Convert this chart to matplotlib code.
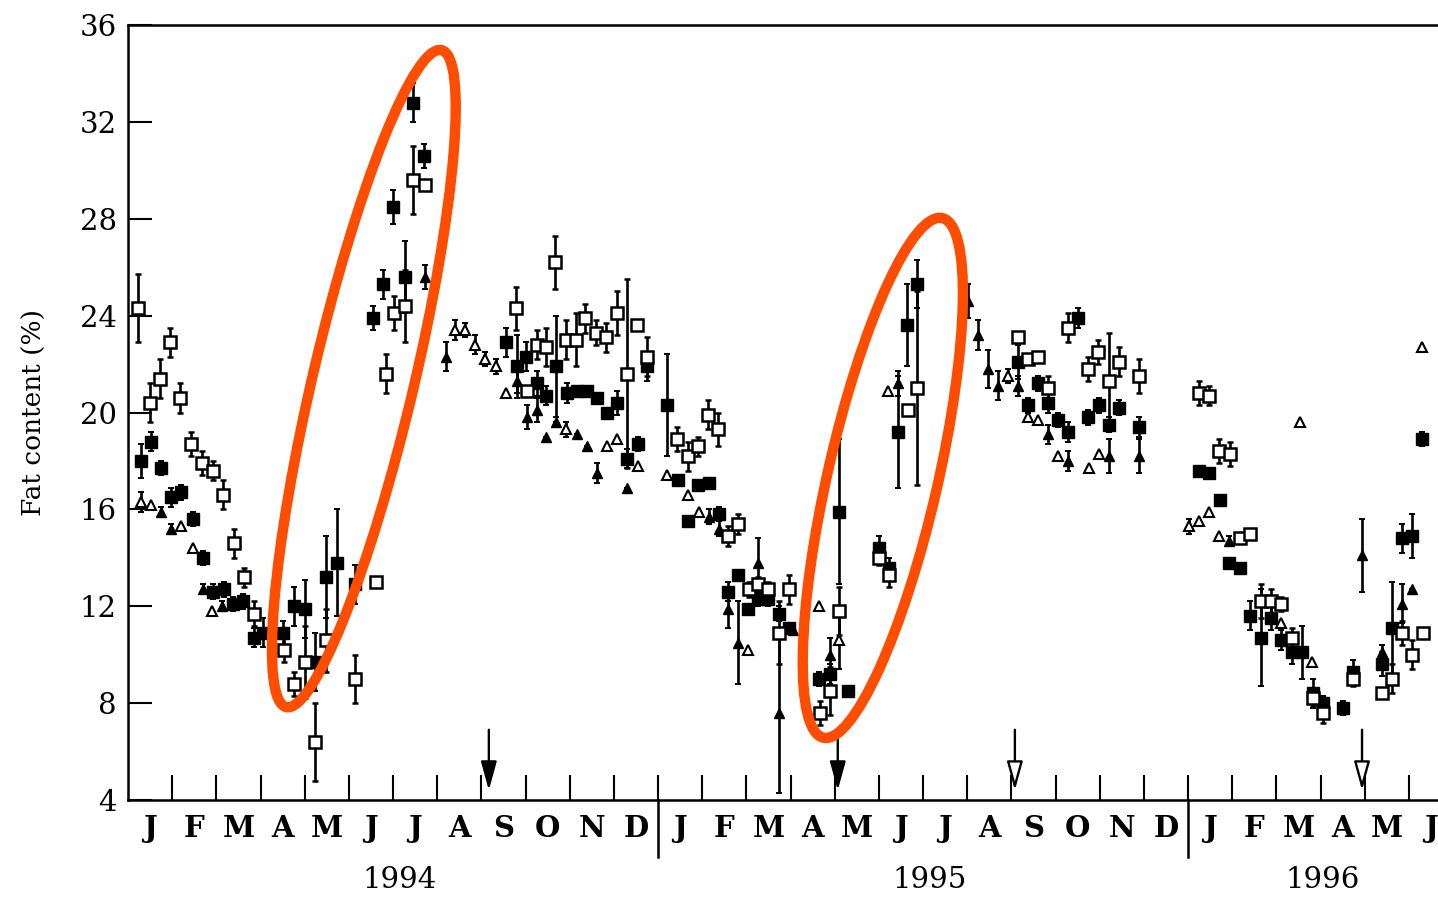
import numpy as np
import matplotlib.pyplot as plt
from matplotlib.patches import Ellipse
from matplotlib.transforms import IdentityTransform, blended_transform_factory

plt.rcParams['font.family'] = 'DejaVu Serif'

# time is in months counted from 1 January 1994
month_labels = ['J', 'F', 'M', 'A', 'M', 'J', 'J', 'A', 'S', 'O', 'N', 'D'] * 2 + ['J', 'F', 'M', 'A', 'M', 'J']
years = ['1994', '1995', '1996']
year_pos = [6.15, 18.15, 27.05]

# filled squares
fs_t = [0.29, 0.52, 0.75, 0.97, 1.20, 1.47, 1.70, 1.92, 2.17, 2.38, 2.60, 2.85, 3.06, 3.51, 3.76, 4.01, 4.23, 4.48, 4.73, 5.14, 5.55, 5.77, 6.00, 6.27, 6.45, 6.70,
        8.56, 8.81, 9.01, 9.26, 9.46, 9.69, 9.94, 10.17, 10.39, 10.62, 10.84, 11.07, 11.30, 11.55, 11.75,
        12.20, 12.45, 12.68, 12.90, 13.15, 13.38, 13.58, 13.81, 14.04, 14.26, 14.49, 14.74, 14.96, 15.64, 15.89, 16.10, 16.30, 17.00, 17.23, 17.43, 17.64, 17.86,
        20.15, 20.38, 20.60, 20.83, 21.06, 21.28, 21.51, 21.73, 21.98, 22.21, 22.44, 22.89,
        24.25, 24.47, 24.72, 24.93, 25.18, 25.40, 25.65, 25.87, 26.10, 26.35, 26.58, 26.83, 27.05, 27.51, 27.73, 28.39, 28.62, 28.84, 29.07, 29.30]
fs_y = [18.0, 18.8, 17.7, 16.5, 16.7, 15.6, 14.0, 12.6, 12.7, 12.1, 12.2, 10.7, 10.9, 10.9, 12.0, 11.9, 9.7, 13.2, 13.8, 12.9, 23.9, 25.3, 28.5, 25.6, 32.8, 30.6,
        22.9, 21.9, 22.3, 21.2, 20.7, 21.9, 20.8, 20.9, 20.9, 20.6, 20.0, 20.4, 18.1, 18.7, 21.9,
        20.3, 17.2, 15.5, 17.0, 17.1, 15.8, 12.6, 13.3, 11.9, 12.3, 12.3, 11.7, 11.1, 9.0, 9.2, 15.9, 8.5, 14.4, 13.6, 19.2, 23.6, 25.3,
        22.1, 20.3, 21.2, 20.4, 19.7, 19.2, 23.9, 19.8, 20.3, 19.5, 20.2, 19.4,
        17.6, 17.5, 16.4, 13.8, 13.6, 11.6, 10.7, 11.5, 10.6, 10.1, 10.1, 8.4, 8.0, 7.8, 9.3, 9.6, 11.1, 14.8, 14.9, 18.9]
fs_e = [0.7, 0.4, 0.3, 0.4, 0.3, 0.3, 0.3, 0.3, 0.3, 0.3, 0.3, 0.4, 0.6, 0.5, 0.8, 1.2, 1.2, 1.7, 2.2, 0.8, 0.5, 0.6, 0.7, 1.5, 0.8, 0.5,
        0.6, 1.3, 0.6, 0.5, 0.4, 2.1, 0.4, 0.2, 0.2, 0.2, 0.2, 0.5, 0.4, 0.3, 0.6,
        2.1, 0.2, 0.2, 0.2, 0.2, 0.3, 0.4, 0.2, 0.2, 0.3, 0.3, 0.3, 0.2, 0.3, 0.4, 3.0, 0.0, 0.5, 0.4, 2.3, 1.7, 1.0,
        0.7, 0.3, 0.3, 0.4, 0.3, 0.4, 0.4, 0.3, 0.3, 0.3, 0.3, 0.4,
        0.2, 0.2, 0.2, 0.2, 0.2, 0.6, 2.0, 0.5, 0.4, 0.5, 1.1, 0.6, 0.3, 0.3, 0.5, 0.5, 1.9, 0.6, 0.9, 0.3]

# open squares
os_t = [0.23, 0.50, 0.72, 0.95, 1.18, 1.43, 1.68, 1.92, 2.15, 2.40, 2.63, 2.85, 3.53, 3.76, 4.01, 4.23, 4.48, 5.14, 5.61, 5.84, 6.02, 6.27, 6.45, 6.72,
        8.78, 9.03, 9.26, 9.46, 9.67, 9.92, 10.14, 10.35, 10.60, 10.82, 11.07, 11.30, 11.52, 11.75,
        12.43, 12.68, 12.90, 13.13, 13.36, 13.58, 13.81, 14.06, 14.26, 14.49, 14.74, 14.96, 15.67, 15.89, 16.10, 17.00, 17.23, 17.66, 17.86,
        20.15, 20.38, 20.60, 20.83, 21.28, 21.73, 21.96, 22.21, 22.44, 22.89,
        24.25, 24.47, 24.70, 24.95, 25.18, 25.40, 25.65, 25.87, 26.10, 26.35, 26.83, 27.05, 27.73, 28.39, 28.62, 28.84, 29.07, 29.32]
os_y = [24.3, 20.4, 21.4, 22.9, 20.6, 18.7, 17.9, 17.6, 16.6, 14.6, 13.2, 11.7, 10.2, 8.8, 9.7, 6.4, 10.6, 9.0, 13.0, 21.6, 24.1, 24.4, 29.6, 29.4,
        24.3, 20.9, 22.8, 22.7, 26.2, 23.0, 23.0, 23.9, 23.3, 23.1, 24.1, 21.6, 23.6, 22.3,
        18.9, 18.2, 18.6, 19.9, 19.3, 14.9, 15.4, 12.7, 12.9, 12.7, 10.9, 12.7, 7.6, 8.5, 11.8, 14.0, 13.3, 20.1, 21.0,
        23.1, 22.2, 22.3, 21.0, 23.5, 21.8, 22.5, 21.3, 22.1, 21.5,
        20.8, 20.7, 18.4, 18.3, 14.8, 15.0, 12.2, 12.2, 12.1, 10.7, 8.2, 7.6, 9.0, 8.4, 9.0, 10.9, 10.0, 10.9]
os_e = [1.4, 0.8, 0.8, 0.6, 0.6, 0.5, 0.5, 0.4, 0.6, 0.6, 0.4, 0.5, 0.5, 0.5, 1.5, 1.6, 1.3, 1.0, 0.0, 0.8, 0.7, 1.5, 1.4, 0.0,
        0.9, 0.0, 0.6, 0.8, 1.1, 0.8, 1.1, 0.6, 0.5, 0.6, 0.9, 3.9, 0.0, 0.8,
        0.5, 0.6, 0.4, 0.6, 0.7, 0.4, 0.4, 0.3, 0.3, 0.3, 1.3, 0.6, 0.5, 1.0, 1.0, 0.3, 0.5, 0.0, 4.0,
        0.0, 0.0, 0.0, 0.5, 0.6, 0.5, 0.5, 2.0, 0.6, 0.7,
        0.5, 0.4, 0.5, 0.5, 0.2, 0.2, 0.7, 0.5, 0.3, 0.4, 0.3, 0.4, 0.3, 0.0, 0.6, 0.5, 0.6, 0.0]

# filled triangles
ft_t = [0.75, 0.97, 1.70, 2.13, 6.72, 7.20, 8.81, 9.03, 9.26, 9.46, 9.69, 10.17, 10.39, 10.62, 11.30, 13.15, 13.38, 13.58, 13.81,
        14.26, 14.74, 15.06, 15.89, 17.43, 19.02, 19.24, 19.47, 19.70, 20.15, 20.83, 21.28, 22.21, 22.89, 24.93, 27.94, 28.39, 28.84, 29.07]
ft_y = [15.9, 15.2, 12.7, 12.0, 25.6, 22.3, 21.3, 19.8, 20.1, 19.0, 19.6, 19.1, 18.6, 17.5, 16.9, 15.7, 15.2, 11.9, 10.5,
        13.8, 7.6, 11.0, 10.0, 21.2, 24.6, 23.2, 21.8, 21.1, 21.1, 19.1, 18.0, 18.2, 18.2, 14.7, 14.1, 10.1, 12.1, 12.7]
ft_e = [0.2, 0.2, 0.2, 0.2, 0.5, 0.6, 0.5, 0.5, 0.5, 0.0, 0.0, 0.0, 0.0, 0.4, 0.0, 0.3, 0.3, 0.8, 1.7,
        1.0, 3.3, 0.0, 0.7, 0.5, 0.7, 0.6, 0.8, 0.6, 0.4, 0.4, 0.4, 0.7, 0.7, 0.2, 1.5, 0.3, 0.8, 0.0]

# open triangles
ot_t = [0.29, 0.52, 1.20, 1.47, 1.90, 7.40, 7.63, 7.86, 8.08, 8.33, 8.56, 9.92, 10.84, 11.07, 11.55, 12.20, 12.68, 12.93,
        14.04, 15.64, 16.10, 17.21, 19.92, 20.38, 20.60, 21.06, 21.76, 21.98, 24.02, 24.25, 24.47, 24.70, 26.10, 26.53, 26.81, 29.30]
ot_y = [16.3, 16.2, 15.3, 14.4, 11.8, 23.4, 23.4, 22.8, 22.2, 21.9, 20.8, 19.3, 18.6, 18.9, 17.8, 17.4, 16.6, 15.9,
        10.2, 12.0, 10.6, 20.9, 21.5, 19.8, 19.7, 18.2, 17.7, 18.3, 15.3, 15.5, 15.9, 14.9, 11.3, 19.6, 9.7, 22.7]
ot_e = [0.4, 0.0, 0.0, 0.0, 0.0, 0.4, 0.3, 0.4, 0.3, 0.3, 0.0, 0.3, 0.0, 0.0, 0.0, 0.0, 0.0, 0.0,
        0.0, 0.0, 1.2, 0.0, 0.3, 0.0, 0.0, 0.0, 0.0, 0.0, 0.3, 0.0, 0.0, 0.0, 0.0, 0.0, 0.0, 0.0]

# arrows marking events along the time axis
arrow_t = [8.17, 16.07, 20.08, 27.94]
arrow_filled = [True, True, False, False]

# highlighted periods: centre (month, %), size in pixels, angle
ellipse_c = [(5.34, 21.4), (17.09, 17.3)]
ellipse_wh = [(675, 101), (533, 110)]
ellipse_ang = [76.7, 77.1]

fig = plt.figure(figsize=(14.38, 8.98), dpi=100)
ax = fig.add_axes([128 / 1438, 98 / 898, 1310 / 1438, 775 / 898])
ax.set_xlim(0, 29.66)
ax.set_ylim(4, 36)

eb = dict(ecolor='black', elinewidth=1.9, capsize=2, capthick=1.4, linestyle='none')
ax.errorbar(fs_t, fs_y, yerr=fs_e, fmt='s', ms=8, mfc='black', mec='black', zorder=3, **eb)
ax.errorbar(os_t, os_y, yerr=os_e, fmt='s', ms=8, mfc='white', mec='black', mew=1.8, zorder=4, **eb)
ax.errorbar(ft_t, ft_y, yerr=ft_e, fmt='^', ms=6.5, mfc='black', mec='black', zorder=3, **eb)
ax.errorbar(ot_t, ot_y, yerr=ot_e, fmt='^', ms=6.5, mfc='white', mec='black', mew=1.5, zorder=3, **eb)

for t, filled in zip(arrow_t, arrow_filled):
    ax.annotate('', xy=(t, 4.4), xytext=(t, 6.9),
                arrowprops=dict(arrowstyle='-|>,head_length=0.8,head_width=0.22', mutation_scale=22,
                                lw=1.7, fc='black' if filled else 'white', ec='black',
                                shrinkA=0, shrinkB=0))

# spines and ticks
for side in ['left', 'bottom', 'top']:
    ax.spines[side].set_linewidth(1.8)
ax.spines['right'].set_visible(False)

ax.set_yticks(np.arange(4, 37, 4))
ax.tick_params(axis='y', direction='in', length=17, width=1.5, labelsize=21, pad=8)

ax.set_xticks(np.arange(1, 30))
ax.set_xticklabels([])
ax.set_xticks(np.arange(len(month_labels)) + 0.5, minor=True)
ax.set_xticklabels(month_labels, minor=True, fontweight='bold')
ax.tick_params(axis='x', which='major', direction='in', length=18, width=1.5)
ax.tick_params(axis='x', which='minor', length=0, labelsize=21, pad=10)

# year separators below the axis
trans = blended_transform_factory(ax.transData, ax.transAxes)
for t in [12, 24]:
    ax.plot([t, t], [0, -0.074], transform=trans, color='black', lw=1.8, clip_on=False)
for label, pos in zip(years, year_pos):
    ax.text(pos, -0.103, label, transform=trans, ha='center', va='center', fontsize=21)

ax.set_ylabel('Fat content (%)', fontsize=19)
ax.yaxis.set_label_coords(-0.062, 0.5)

# highlight ellipses drawn in pixel units so their shape is not stretched
for c, (w, h), ang in zip(ellipse_c, ellipse_wh, ellipse_ang):
    cx, cy = ax.transData.transform(c)
    ax.add_patch(Ellipse((cx, cy), w, h, angle=ang, transform=IdentityTransform(),
                         fill=False, ec='#FF4D00', lw=7.5, zorder=10, clip_on=False))

fig.savefig('out.png', dpi=100)
